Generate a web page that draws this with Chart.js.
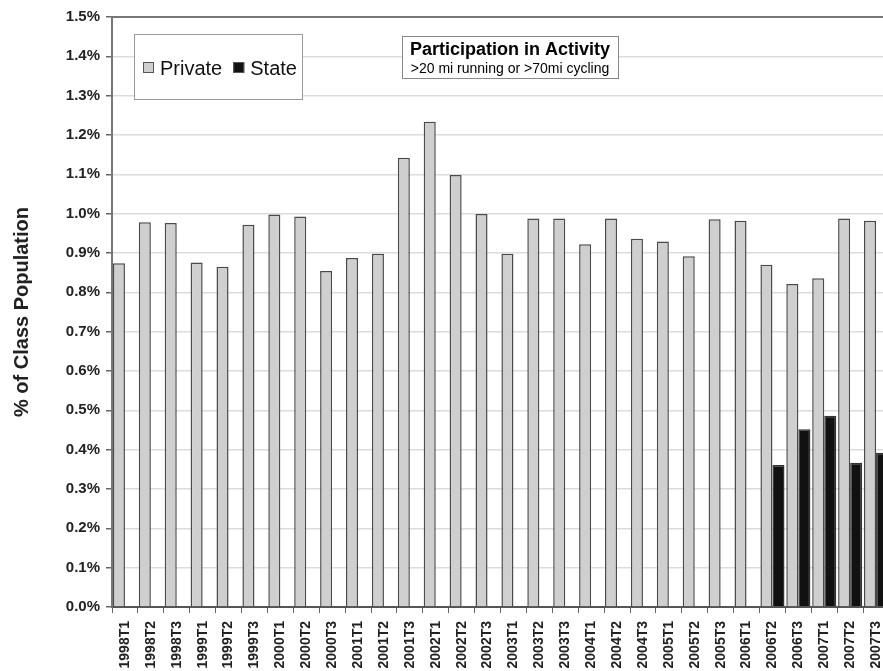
<!DOCTYPE html>
<html>
<head>
<meta charset="utf-8">
<script src="https://cdn.jsdelivr.net/npm/chart.js@4.4.1/dist/chart.umd.min.js"></script>
<style>
  html, body { margin: 0; padding: 0; background: #fff; overflow: hidden; }
  #wrap { position: absolute; left: 0; top: 0; width: 889px; height: 671px; }
</style>
</head>
<body>
<div id="wrap"><canvas id="chart"></canvas></div>
<script>
// periodos (ano + trimestre)
const periods = [
  "1998T1", "1998T2", "1998T3", "1999T1", "1999T2", "1999T3",
  "2000T1", "2000T2", "2000T3", "2001T1", "2001T2", "2001T3",
  "2002T1", "2002T2", "2002T3", "2003T1", "2003T2", "2003T3",
  "2004T1", "2004T2", "2004T3", "2005T1", "2005T2", "2005T3",
  "2006T1", "2006T2", "2006T3", "2007T1", "2007T2", "2007T3"
];

// % da turma - escolas privadas
const privateValues = [
  0.874, 0.978, 0.976, 0.876, 0.865, 0.972,
  0.998, 0.993, 0.854, 0.887, 0.898, 1.142,
  1.234, 1.098, 0.999, 0.898, 0.988, 0.988,
  0.922, 0.988, 0.936, 0.929, 0.892, 0.986,
  0.982, 0.870, 0.821, 0.836, 0.988, 0.982
];

// % da turma - escolas estaduais (só a partir de 2006T2)
const stateValues = [
  null, null, null, null, null, null,
  null, null, null, null, null, null,
  null, null, null, null, null, null,
  null, null, null, null, null, null,
  null, 0.361, 0.452, 0.486, 0.367, 0.392
];

const yTicks = { min: 0, max: 1.5, step: 0.1 };

const FONT = "'Liberation Sans', Arial, sans-serif";

// caixas de legenda e titulo desenhadas dentro do grafico
const boxesPlugin = {
  id: "boxes",
  afterDraw(chart) {
    const c = chart.ctx;
    const area = chart.chartArea;
    const ds = chart.data.datasets;

    // linha de cima da area do grafico
    c.save();
    c.strokeStyle = "#777";
    c.lineWidth = 2;
    c.beginPath();
    c.moveTo(area.left, area.top);
    c.lineTo(area.right, area.top);
    c.stroke();

    // legenda
    const lx = area.left + 22, ly = 34, lw = 168, lh = 65;
    c.fillStyle = "#fff";
    c.fillRect(lx, ly, lw, lh);
    c.strokeStyle = "#999";
    c.lineWidth = 1;
    c.strokeRect(lx + 0.5, ly + 0.5, lw, lh);

    c.font = "20px " + FONT;
    c.textBaseline = "middle";
    c.textAlign = "left";
    let x = lx + 9;
    const cy = ly + 34;
    ds.forEach((d) => {
      c.fillStyle = d.backgroundColor;
      c.fillRect(x, cy - 6, 11, 11);
      c.strokeStyle = "#555";
      c.lineWidth = 1;
      c.strokeRect(x + 0.5, cy - 5.5, 10, 10);
      c.fillStyle = "#111";
      c.fillText(d.label, x + 17, cy + 1);
      x += 17 + c.measureText(d.label).width + 11;
    });

    // titulo
    const tx = area.left + 290, ty = 36, tw = 216, th = 42;
    c.fillStyle = "#fff";
    c.fillRect(tx, ty, tw, th);
    c.strokeStyle = "#888";
    c.strokeRect(tx + 0.5, ty + 0.5, tw, th);
    c.fillStyle = "#000";
    c.textAlign = "center";
    c.textBaseline = "alphabetic";
    c.font = "bold 18px " + FONT;
    c.fillText("Participation in Activity", tx + tw / 2, ty + 19);
    c.font = "14px " + FONT;
    c.fillText(">20 mi running or >70mi cycling", tx + tw / 2, ty + 37);
    c.restore();
  }
};

new Chart(document.getElementById("chart"), {
  type: "bar",
  data: {
    labels: periods,
    datasets: [
      {
        label: "Private",
        data: privateValues,
        backgroundColor: "#cfcfcf",
        borderColor: "#4a4a4a",
        borderWidth: 1.5,
        categoryPercentage: 0.93,
        barPercentage: 1.0
      },
      {
        label: "State",
        data: stateValues,
        backgroundColor: "#111",
        borderColor: "#333",
        borderWidth: 1.5,
        categoryPercentage: 0.93,
        barPercentage: 1.0
      }
    ]
  },
  options: {
    responsive: true,
    maintainAspectRatio: false,
    animation: false,
    layout: { padding: { top: 17, left: 0, right: 0, bottom: 0 } },
    plugins: {
      legend: { display: false },
      tooltip: { enabled: false }
    },
    scales: {
      x: {
        grid: { drawOnChartArea: false, drawTicks: true, tickLength: 6, tickColor: "#666" },
        border: { display: true, color: "#555", width: 2 },
        ticks: {
          autoSkip: false,
          maxRotation: 90,
          minRotation: 90,
          padding: 8,
          color: "#222",
          font: { family: FONT, size: 14, weight: "bold" }
        },
        afterFit: (s) => {
          s.height = 64;
          s.paddingLeft = 0;
          s.paddingRight = 0;
        }
      },
      y: {
        min: yTicks.min,
        max: yTicks.max,
        grid: { color: "#dcdcdc", lineWidth: 1.5, tickLength: 6, tickColor: "#666" },
        border: { display: true, color: "#777", width: 2 },
        ticks: {
          stepSize: yTicks.step,
          padding: 6,
          color: "#222",
          font: { family: FONT, size: 15, weight: "bold" },
          callback: (v) => v.toFixed(1) + "%"
        },
        title: {
          display: true,
          text: "% of Class Population",
          color: "#222",
          font: { family: FONT, size: 20, weight: "bold" },
          padding: { top: 10, bottom: 0 }
        },
        afterFit: (s) => {
          s.width = 112;
          s.paddingTop = 0;
          s.paddingBottom = 0;
        }
      }
    }
  },
  plugins: [boxesPlugin]
});
</script>
</body>
</html>
